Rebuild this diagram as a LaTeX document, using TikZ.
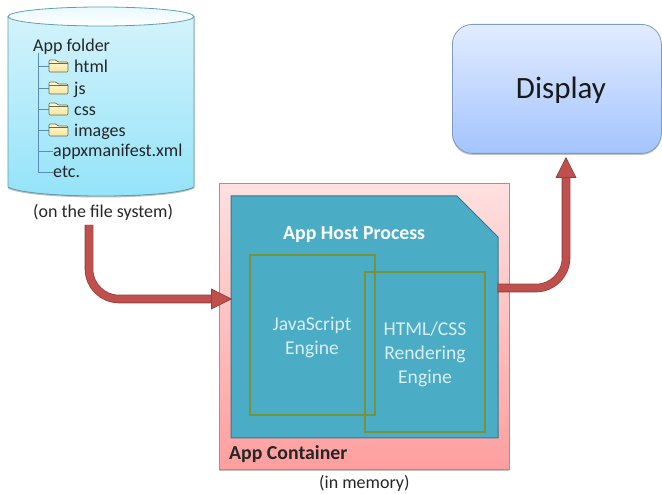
\documentclass[tikz,border=0pt]{standalone}
\usepackage{fontspec}
\setmainfont{Carlito}
\usetikzlibrary{positioning,shapes,shadows,arrows.meta}
\definecolor{arrowred}{HTML}{C0504D}
\definecolor{arrowdark}{HTML}{94403E}
\definecolor{hostblue}{HTML}{4BACC6}
\definecolor{engineline}{HTML}{76923C}
\definecolor{enginetext}{HTML}{DAEEF3}
\definecolor{treeblue}{HTML}{5B8DB8}
\definecolor{storetop}{HTML}{D3F3FB}
\definecolor{storebottom}{HTML}{93E3F9}
\definecolor{storeline}{HTML}{5F9FB0}
\definecolor{displaytop}{HTML}{E2ECFF}
\definecolor{displaybottom}{HTML}{A3C4FD}
\definecolor{displayline}{HTML}{7C9CC4}
\definecolor{containertop}{HTML}{FFE0E0}
\definecolor{containerbottom}{HTML}{FF9E9E}
\definecolor{containerline}{HTML}{C08584}
\definecolor{folderline}{HTML}{6E6A45}
\definecolor{foldertop}{HTML}{FFF9D8}
\definecolor{folderbottom}{HTML}{F7E79C}
\tikzstyle{label}=[
	anchor=base west,
	text=black!85,
	inner sep=0pt,
	font=\fontsize{18}{18}\selectfont
	]
\tikzstyle{engine}=[
	rectangle,
	draw=engineline,
	line width=2pt,
	anchor=north west
	]
\tikzstyle{enginelabel}=[
	text=enginetext,
	align=center,
	font=\fontsize{19.6}{23.7}\selectfont
	]
\tikzstyle{flow}=[
	draw=arrowdark,
	line width=0.8pt,
	double=arrowred,
	double distance=7pt,
	rounded corners=30pt,
	-{Triangle[length=21pt,width=21pt,fill=arrowred,line width=0.8pt]}
	]
\tikzstyle{softshadow}=[
	drop shadow={shadow xshift=0pt,shadow yshift=-1.5pt,opacity=0.25,fill=black}
	]
\tikzset{
	foldericon/.pic={
		\draw[draw=folderline,top color=foldertop,bottom color=folderbottom,line width=0.7pt,rounded corners=1pt]
			(0,6) -- (0,-6) -- (7,-6) -- (9,-4) -- (19,-4) -- (19,6) -- cycle;
		\draw[draw=folderline,line width=0.5pt] (0,-2.5) -- (19,-2.5);
	}
}

\begin{document}
\begin{tikzpicture}[x=1pt,y=-1pt]
		\useasboundingbox (0,0) rectangle (662,494);

		\filldraw[draw=storeline, line width=0.8pt, top color=storetop, bottom color=storebottom, softshadow]
			(8,17) -- (8,187) .. controls (30,199) and (172,199) .. (194,187) -- (194,17) -- cycle;
		\draw[draw=storeline, line width=0.8pt, top color=storetop!50!white, bottom color=white] (101,16.5) ellipse [x radius=93, y radius=9.5];

		\node (AppFolder) [label] at (33,51.5) {App folder};
		\coordinate (TreeTop) at (38,53);
		\coordinate (TreeEnd) at (38,172);
		\draw[draw=treeblue, line width=0.8pt] (TreeTop) -- (TreeEnd) -- (53,172);
		\foreach \name/\y in {html/66, js/88, css/109, images/130} {
			\draw[draw=treeblue, line width=0.8pt] (38,\y) -- (49,\y);
			\pic at (49,\y) {foldericon};
			\node (\name) [label] at (74,\y+7) {\name};
		}
		\draw[draw=treeblue, line width=0.8pt] (38,151) -- (53,151);
		\node (Manifest) [label] at (53,156.5) {appxmanifest.xml};
		\node (Etc) [label] at (53,177.5) {etc.};
		\node (FileSystem) [label] at (33,218) {(on the file system)};

		\node (Container) [rectangle, draw=containerline, line width=0.8pt, anchor=north west, minimum width=290pt, minimum height=286pt,
			top color=containertop, bottom color=containerbottom, softshadow] at (219,183) {};
		\node (ContainerName) [label, font=\fontsize{19.8}{20}\selectfont\bfseries] at (229,460) {App Container};
		\node (Memory) [label] at (319,489) {(in memory)};

		\filldraw[fill=hostblue, draw=hostblue!70!black, line width=1pt]
			(231,196) -- (457,196) -- (498,237) -- (498,438) -- (231,438) -- cycle;
		\coordinate (HostIn) at (232,299);
		\coordinate (HostOut) at (497,288);
		\node (HostName) [label, text=white, font=\fontsize{19.8}{20}\selectfont\bfseries] at (283,240) {App Host Process};

		\node (JsEngine) [engine, minimum width=125pt, minimum height=160pt] at (249,254) {};
		\node (HtmlEngine) [engine, minimum width=120pt, minimum height=160pt] at (364,271) {};
		\node (JsText) [enginelabel] at (312,337.5) {JavaScript\\Engine};
		\node (HtmlText) [enginelabel] at (425,354.5) {HTML/CSS\\Rendering\\Engine};

		\node (Display) [rectangle, rounded corners=20pt, draw=displayline, line width=0.8pt, anchor=north west,
			minimum width=209pt, minimum height=129pt, top color=displaytop, bottom color=displaybottom, softshadow] at (452,24) {};
		\node (DisplayName) [text=black!90, font=\fontsize{31}{31}\selectfont] at (561,90) {Display};
		\coordinate (DisplayIn) at (566,157);
		\coordinate (FlowStart) at (89,225);

		\draw[flow] (FlowStart) |- (HostIn);
		\draw[flow] (HostOut) -| (DisplayIn);

	\end{tikzpicture}
\end{document}
